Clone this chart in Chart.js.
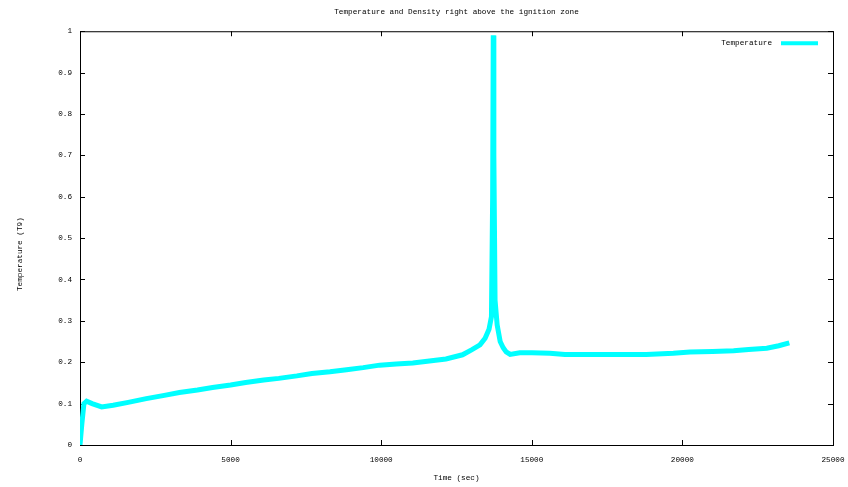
<!DOCTYPE html>
<html>
<head>
<meta charset="utf-8">
<script src="https://cdn.jsdelivr.net/npm/chart.js@4.4.0/dist/chart.umd.min.js"></script>
<style>
  html, body { margin: 0; padding: 0; background: #fff; }
  #wrap { width: 848px; height: 487px; }
</style>
</head>
<body>
<div id="wrap"><canvas id="tempChart"></canvas></div>
<script>
// Temperature right above the ignition zone
const times = [0, 60, 130, 220, 400, 720, 1100, 1600, 2200, 2800, 3300, 3900, 4400, 5000,
    5500, 6100, 6600, 7200, 7700, 8300, 8850, 9400, 9950, 10500, 11050, 11600, 12150, 12700,
    13000, 13280, 13450, 13580, 13660, 13700, 13720, 13740, 13780, 13850, 13950, 14050, 14150,
    14280, 14600, 15000, 15600, 16100, 17000, 18000, 18800, 19700, 20250, 21000, 21700, 22200,
    22800, 23200, 23550];
const temperature = [0, 0.05, 0.1, 0.106, 0.1, 0.092, 0.096, 0.103, 0.112, 0.12, 0.127, 0.133, 0.139, 0.145,
    0.151, 0.157, 0.161, 0.167, 0.173, 0.177, 0.182, 0.187, 0.193, 0.196, 0.198, 0.203, 0.208, 0.218,
    0.23, 0.242, 0.258, 0.28, 0.31, 0.6, 0.99, 0.7, 0.35, 0.29, 0.25, 0.235, 0.225,
    0.219, 0.223, 0.223, 0.222, 0.219, 0.219, 0.219, 0.219, 0.222, 0.225, 0.226, 0.228, 0.231,
    0.234, 0.24, 0.247];

const xTicks = [0, 5000, 10000, 15000, 20000, 25000];
const yTicks = [0, 0.1, 0.2, 0.3, 0.4, 0.5, 0.6, 0.7, 0.8, 0.9, 1];
const yTitle = 'Temperature (T9)';

const FONT = 'Liberation Mono';
const SIZE = 7.7;

// gnuplot style frame with inward ticks on all four sides
const framePlugin = {
    id: 'frame',
    beforeDatasetsDraw(chart) {
        const { ctx, chartArea: a, scales } = chart;
        ctx.save();
        ctx.strokeStyle = '#000';
        ctx.lineWidth = 1;
        ctx.strokeRect(a.left + 0.5, a.top + 0.5, a.right - a.left, a.bottom - a.top);
        ctx.beginPath();
        xTicks.forEach(v => {
            const px = Math.round(scales.x.getPixelForValue(v)) + 0.5;
            ctx.moveTo(px, a.bottom); ctx.lineTo(px, a.bottom - 5);
            ctx.moveTo(px, a.top); ctx.lineTo(px, a.top + 5);
        });
        yTicks.forEach(v => {
            const py = Math.round(scales.y.getPixelForValue(v)) + 0.5;
            ctx.moveTo(a.left, py); ctx.lineTo(a.left + 5, py);
            ctx.moveTo(a.right, py); ctx.lineTo(a.right - 5, py);
        });
        ctx.stroke();
        ctx.restore();
    },
    afterDraw(chart) {
        const { ctx, chartArea: a } = chart;
        const ds = chart.data.datasets[0];
        ctx.save();
        ctx.font = SIZE + 'px "' + FONT + '"';
        ctx.fillStyle = '#000';
        ctx.textBaseline = 'middle';
        // y axis title, gnuplot puts it a bit below the middle
        ctx.save();
        ctx.translate(20, (a.top + a.bottom) / 2 + 16);
        ctx.rotate(-Math.PI / 2);
        ctx.textAlign = 'center';
        ctx.fillText(yTitle, 0, 0);
        ctx.restore();
        // key in the top right corner
        ctx.textAlign = 'right';
        ctx.fillText(ds.label, a.right - 61, a.top + 12);
        ctx.strokeStyle = ds.borderColor;
        ctx.lineWidth = 4;
        ctx.beginPath();
        ctx.moveTo(a.right - 52, a.top + 12);
        ctx.lineTo(a.right - 15, a.top + 12);
        ctx.stroke();
        ctx.restore();
    }
};

new Chart(document.getElementById('tempChart'), {
    type: 'line',
    data: {
        datasets: [{
            label: 'Temperature',
            data: times.map((t, i) => ({ x: t, y: temperature[i] })),
            borderColor: '#00ffff',
            backgroundColor: '#00ffff',
            borderWidth: 5,
            pointRadius: 0,
            tension: 0,
            fill: false
        }]
    },
    options: {
        responsive: true,
        maintainAspectRatio: false,
        animation: false,
        layout: { padding: { left: 10, right: 15, top: 0, bottom: 0 } },
        plugins: {
            legend: { display: false },
            tooltip: { enabled: false },
            title: {
                display: true,
                fullSize: false,
                text: 'Temperature and Density right above the ignition zone',
                color: '#000',
                font: { family: FONT, size: SIZE, weight: 'normal' },
                padding: { top: 7, bottom: 15 }
            }
        },
        scales: {
            x: {
                type: 'linear',
                min: 0,
                max: 25000,
                afterBuildTicks: s => { s.ticks = xTicks.map(v => ({ value: v })); },
                afterFit: s => { s.height = 42; s.paddingLeft = 0; s.paddingRight = 0; },
                grid: { display: false, drawTicks: false },
                border: { display: false },
                ticks: {
                    color: '#000',
                    padding: 10,
                    maxRotation: 0,
                    font: { family: FONT, size: SIZE },
                    callback: v => String(v)
                },
                title: {
                    display: true,
                    text: 'Time (sec)',
                    color: '#000',
                    font: { family: FONT, size: SIZE },
                    padding: { top: 4, bottom: 4 }
                }
            },
            y: {
                min: 0,
                max: 1,
                afterBuildTicks: s => { s.ticks = yTicks.map(v => ({ value: v })); },
                afterFit: s => { s.width = 70; },
                grid: { display: false, drawTicks: false },
                border: { display: false },
                ticks: {
                    color: '#000',
                    padding: 8,
                    font: { family: FONT, size: SIZE },
                    callback: v => String(v)
                }
            }
        }
    },
    plugins: [framePlugin]
});
</script>
</body>
</html>
